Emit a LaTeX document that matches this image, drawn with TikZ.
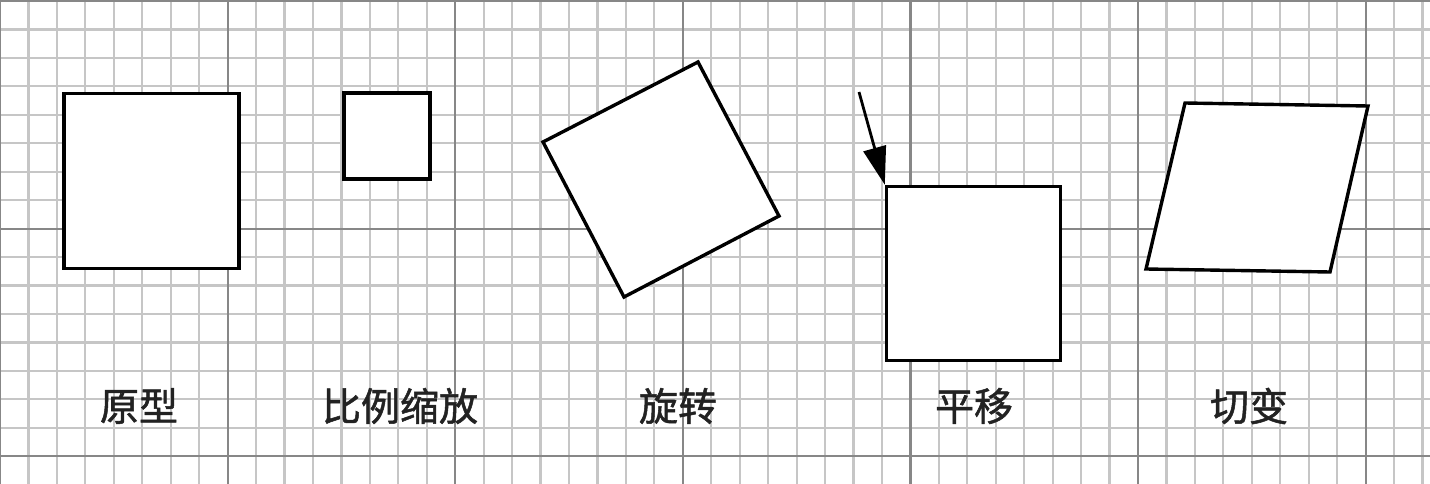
\documentclass[tikz,border=0pt]{standalone}
\usepackage{fontspec}
\setmainfont{Noto Sans CJK SC}
\newfontfamily\labelfont[FakeBold=1.3]{Noto Sans CJK SC}
\usetikzlibrary{arrows.meta}
\definecolor{minorgrid}{HTML}{C6C6C6}
\definecolor{majorgrid}{HTML}{878787}
\definecolor{labeltext}{HTML}{222222}
\tikzset{
  minorline/.style={draw=minorgrid, line width=2.2pt},
  majorline/.style={draw=majorgrid, line width=2.2pt},
  shapebox/.style={draw=black, fill=white, line width=3.4pt, line join=miter},
  sqnode/.style={shapebox, rectangle, inner sep=0pt, minimum width=#1, minimum height=#1},
  caption/.style={text=labeltext, font=\labelfont\fontsize{39}{41}\selectfont, inner sep=0pt},
  pointer/.style={draw=black, line width=2.8pt, -{Triangle[length=38pt,width=23pt]}}
}
\begin{document}
\begin{tikzpicture}[x=1pt,y=-1pt]
\useasboundingbox (0,0) rectangle (1430,484);
\fill[white] (0,0) rectangle (1430,484);
% minor grid
\foreach \k in {0,...,50}{
  \draw[minorline] ({28.45*\k},0) -- ({28.45*\k},484);
}
\foreach \k in {0,...,17}{
  \draw[minorline] (0,{1+28.45*\k}) -- (1430,{1+28.45*\k});
}
% major grid
\foreach \k in {0,8,...,48}{
  \draw[majorline] ({28.45*\k},0) -- ({28.45*\k},484);
}
\foreach \k in {0,8,16}{
  \draw[majorline] (0,{1+28.45*\k}) -- (1430,{1+28.45*\k});
}
% original
\node[sqnode=175pt] (orig) at (151.5,181) {};
% scaled
\node[sqnode=86pt] (scaled) at (387,136) {};
% rotated
\coordinate (rA) at (698,62);
\coordinate (rB) at (543,142);
\coordinate (rC) at (624,297);
\coordinate (rD) at (779,216);
\draw[shapebox] (rA) -- (rB) -- (rC) -- (rD) -- cycle;
% translated
\node[sqnode=174pt] (moved) at (973.5,273.5) {};
\coordinate (astart) at (859,92);
\draw[pointer] (astart) -- (moved.north west);
% sheared
\coordinate (sA) at (1185,103);
\coordinate (sB) at (1368,106);
\coordinate (sC) at (1330,272);
\coordinate (sD) at (1146,269);
\draw[shapebox] (sA) -- (sB) -- (sC) -- (sD) -- cycle;
% labels
\node[caption] (l1) at (139,406) {原型};
\node[caption] (l2) at (400,406) {比例缩放};
\node[caption] (l3) at (678,406) {旋转};
\node[caption] (l4) at (974,406) {平移};
\node[caption] (l5) at (1249,406) {切变};
\end{tikzpicture}
\end{document}
